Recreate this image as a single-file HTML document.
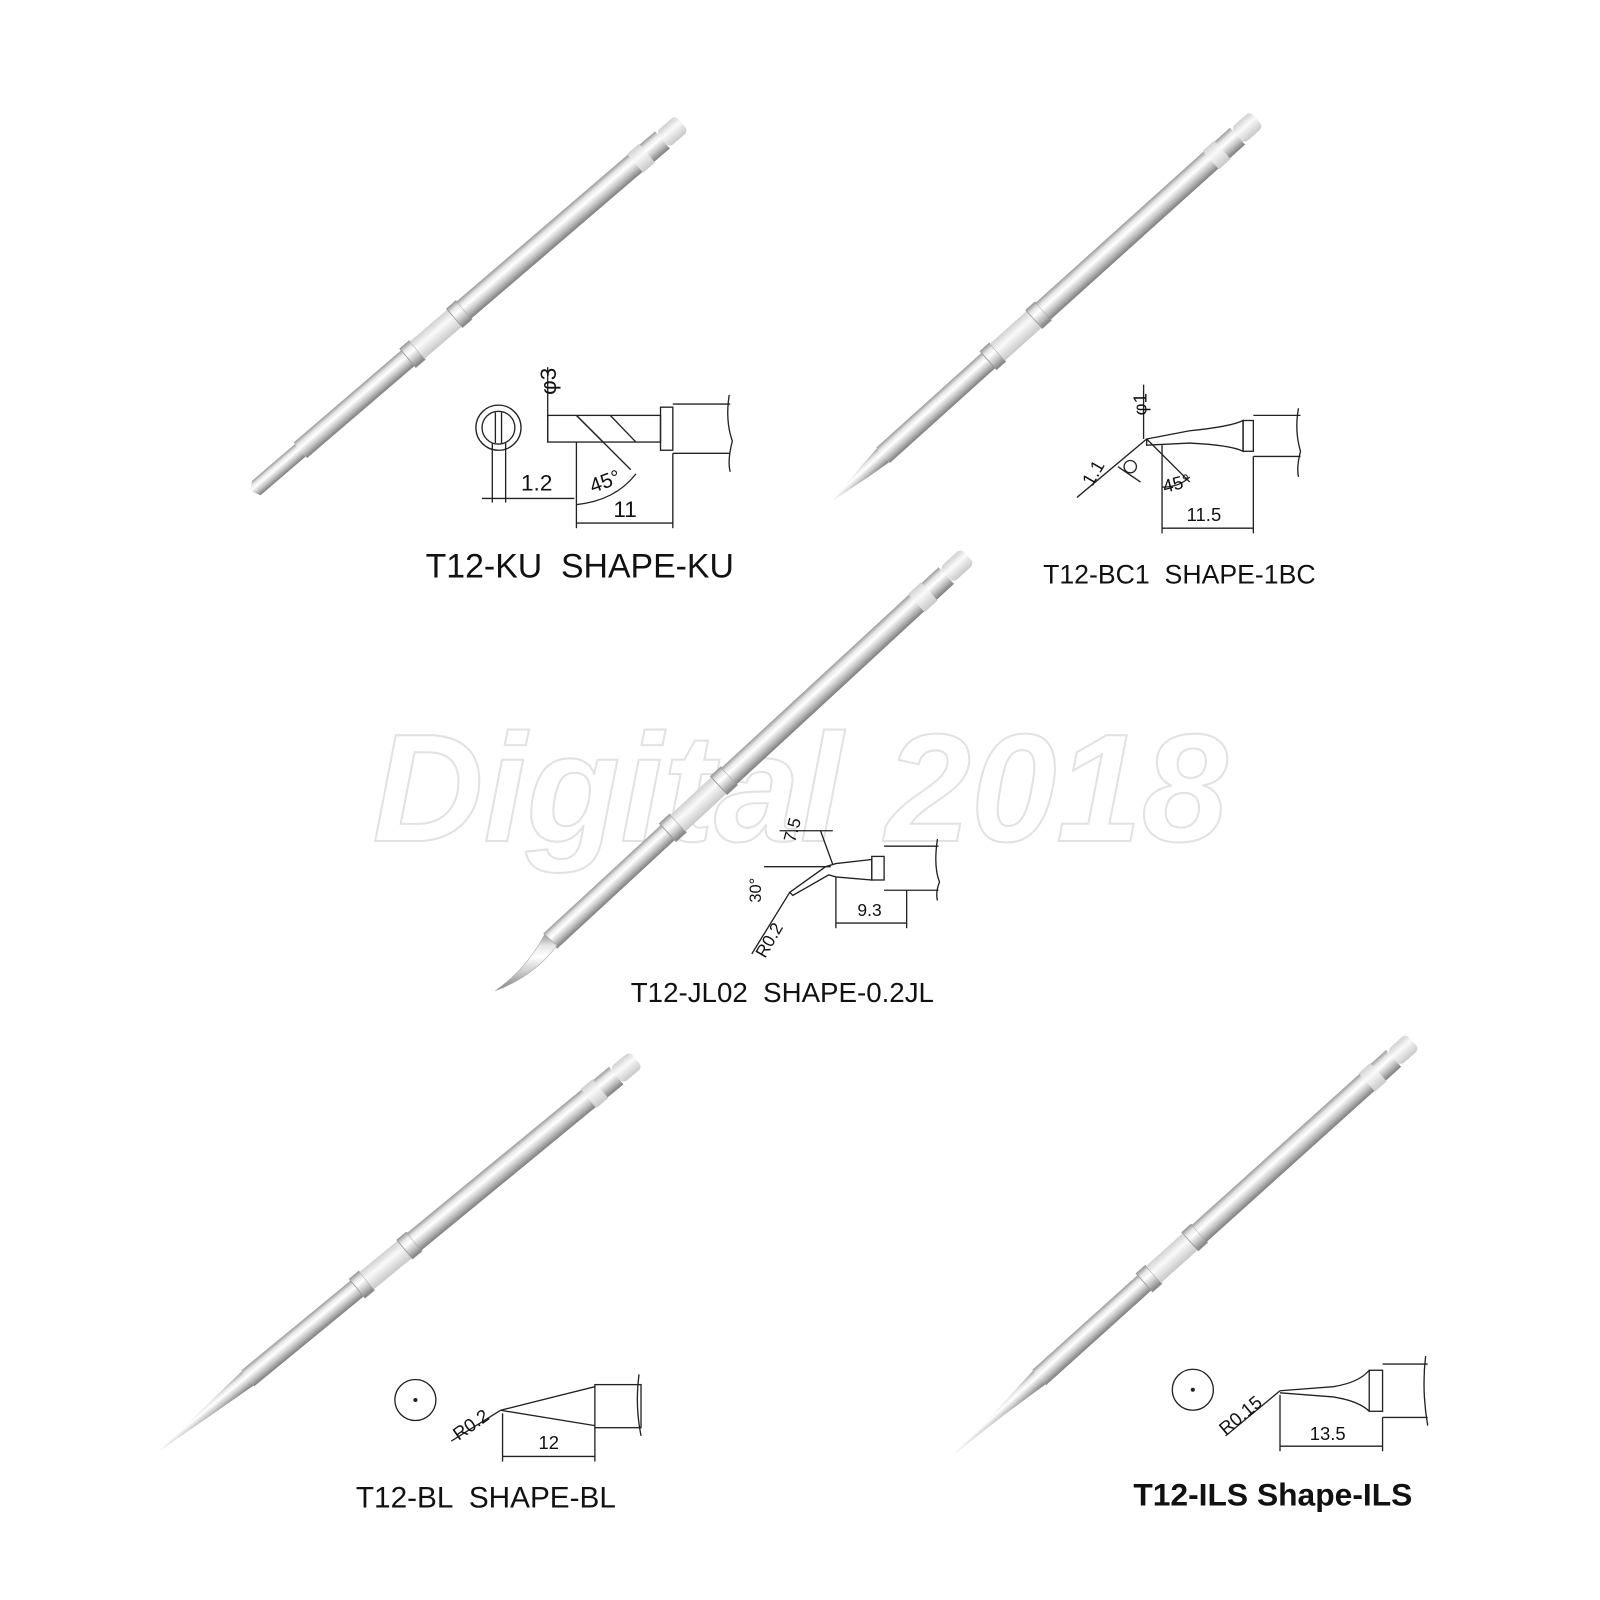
<!DOCTYPE html>
<html><head><meta charset="utf-8"><style>
html,body{margin:0;padding:0;background:#fff;}
svg{display:block}
text{font-family:"Liberation Sans",sans-serif;fill:#111;white-space:pre}
</style></head><body>
<svg width="1600" height="1600" viewBox="0 0 1560 1560" xmlns="http://www.w3.org/2000/svg">
<defs>
<linearGradient id="m" x1="0" y1="0" x2="0" y2="1">
<stop offset="0" stop-color="#9a9a9a"/><stop offset="0.2" stop-color="#e6e6e6"/><stop offset="0.4" stop-color="#ffffff"/><stop offset="0.7" stop-color="#c4c4c4"/><stop offset="1" stop-color="#7d7d7d"/>
</linearGradient>
<linearGradient id="w" x1="0" y1="0" x2="0" y2="1">
<stop offset="0" stop-color="#d0d0d0"/><stop offset="0.4" stop-color="#fafafa"/><stop offset="1" stop-color="#c8c8c8"/>
</linearGradient>
<g id="body">
<rect x="0" y="-10" width="140" height="20" fill="url(#m)"/>
<rect x="138" y="-12" width="12" height="24" fill="url(#m)" stroke="#999" stroke-width="0.8"/>
<rect x="150" y="-11" width="50" height="22" fill="url(#w)"/>
<rect x="198" y="-12" width="12" height="24" fill="url(#m)" stroke="#999" stroke-width="0.8"/>
<rect x="210" y="-11" width="220" height="22" fill="url(#m)"/>
<rect x="430" y="-12" width="15" height="24" fill="url(#w)"/>
<rect x="445" y="-11" width="20" height="22" fill="url(#m)"/>
<rect x="465" y="-10" width="25" height="20" rx="5" fill="url(#w)"/>
</g>
</defs>
<rect width="1560" height="1560" fill="#fff"/>
<text x="780" y="820" text-anchor="middle" font-size="150" font-style="italic" font-weight="bold" stroke="#e2e2e2" stroke-width="2" style="fill:none">Digital 2018</text>

<g transform="translate(245,480) rotate(-40.6)">
<polygon points="0,-2 8,-8 63,-8 63,8 5,8" fill="url(#m)"/>
<use href="#body" x="63"/>
</g>
<g transform="translate(812,488) rotate(-42)">
<polygon points="0,0 40,-6 66,-9 66,9 40,6" fill="url(#m)"/>
<use href="#body" x="66"/>
</g>
<g transform="translate(485,965) rotate(-42.7)">
<use href="#body" transform="translate(70,0) scale(1.13,1)"/>
</g>
<path d="M531,911 L543,922 Q520,952 483,966 Q514,944 531,911Z" fill="url(#m)" stroke="#aaa" stroke-width="0.6"/>
<g transform="translate(155,1415) rotate(-39.4)">
<polygon points="0,0 60,-5 112,-9 112,9 60,5" fill="url(#m)"/>
<use href="#body" x="112"/>
</g>
<g transform="translate(930,1418) rotate(-42)">
<polygon points="0,0 60,-4 112,-9 112,9 60,4" fill="url(#m)"/>
<use href="#body" x="112"/>
</g>

<g fill="none" stroke="#222" stroke-width="1.3">
<circle cx="486" cy="417" r="22"/><circle cx="486" cy="417" r="16"/>
<line x1="483" y1="402" x2="483" y2="432"/><line x1="489" y1="402" x2="489" y2="432"/>
<line x1="480" y1="432" x2="480" y2="490"/><line x1="493" y1="432" x2="493" y2="490"/>
<line x1="470" y1="486" x2="560" y2="486"/>
<rect x="534" y="405" width="110" height="26"/>
<line x1="562" y1="405" x2="588" y2="431"/><line x1="595" y1="405" x2="620" y2="431"/>
<rect x="644" y="397" width="12" height="42"/>
<line x1="656" y1="394" x2="712" y2="394"/><line x1="656" y1="442" x2="712" y2="442"/>
<path d="M711,385 Q707,410 714,430 Q709,450 712,460"/>
<line x1="534" y1="358" x2="534" y2="431"/>
<line x1="562" y1="431" x2="562" y2="515"/><line x1="656" y1="442" x2="656" y2="515"/>
<line x1="562" y1="510" x2="656" y2="510"/>
<line x1="562" y1="405" x2="615" y2="458"/>
<path d="M562,492 Q600,488 620,462"/>
<line x1="1115" y1="375" x2="1115" y2="428"/>
<path d="M1118,428 L1160,420 Q1200,416 1212,410 L1212,440 Q1200,434 1160,432 L1118,434Z"/>
<rect x="1212" y="410" width="10" height="30"/>
<line x1="1222" y1="405" x2="1268" y2="405"/><line x1="1222" y1="445" x2="1268" y2="445"/>
<path d="M1266,398 Q1262,420 1268,440 Q1264,455 1266,465"/>
<line x1="1050" y1="485" x2="1118" y2="428"/><line x1="1090" y1="455" x2="1112" y2="470"/>
<circle cx="1102" cy="455" r="6"/>
<line x1="1133" y1="434" x2="1133" y2="520"/><line x1="1222" y1="445" x2="1222" y2="520"/>
<line x1="1133" y1="515" x2="1222" y2="515"/>
<line x1="1118" y1="428" x2="1160" y2="470"/><path d="M1133,475 Q1150,475 1160,465"/>
<path d="M770,870 L805,845 L815,842 L850,838 L850,858 L815,855 L808,853 L773,873Z"/>
<rect x="850" y="835" width="12" height="23"/>
<line x1="862" y1="825" x2="915" y2="825"/><line x1="862" y1="868" x2="915" y2="868"/>
<path d="M914,818 Q910,845 916,860 Q912,870 914,878"/>
<line x1="745" y1="845" x2="810" y2="845"/><line x1="760" y1="810" x2="812" y2="810"/>
<line x1="800" y1="810" x2="812" y2="843"/>
<line x1="815" y1="855" x2="815" y2="905"/><line x1="884" y1="868" x2="884" y2="905"/>
<line x1="815" y1="900" x2="884" y2="900"/>
<line x1="733" y1="930" x2="770" y2="870"/>
<circle cx="405" cy="1365" r="20"/>
<path d="M488,1375 L580,1352 M488,1375 L580,1390"/>
<rect x="580" y="1350" width="45" height="42"/>
<path d="M623,1340 Q619,1370 625,1400"/>
<line x1="440" y1="1405" x2="488" y2="1375"/>
<line x1="490" y1="1378" x2="490" y2="1425"/><line x1="580" y1="1392" x2="580" y2="1425"/>
<line x1="490" y1="1420" x2="580" y2="1420"/>
<circle cx="1163" cy="1355" r="20"/>
<path d="M1248,1356 L1300,1352 Q1325,1348 1335,1336 M1248,1358 L1300,1362 Q1325,1366 1335,1376"/>
<rect x="1335" y="1336" width="13" height="40"/>
<line x1="1348" y1="1330" x2="1392" y2="1330"/><line x1="1348" y1="1382" x2="1392" y2="1382"/>
<path d="M1390,1322 Q1386,1355 1392,1390"/>
<line x1="1195" y1="1400" x2="1248" y2="1356"/>
<line x1="1248" y1="1360" x2="1248" y2="1415"/><line x1="1348" y1="1382" x2="1348" y2="1415"/>
<line x1="1248" y1="1410" x2="1348" y2="1410"/>
</g>
<circle cx="405" cy="1365" r="2" fill="#222"/>
<circle cx="1163" cy="1355" r="2" fill="#222"/>

<text x="0" y="0" font-size="22" transform="translate(542,385) rotate(-90)">φ3</text>
<text x="508" y="478" font-size="22">1.2</text>
<text x="575" y="476" font-size="20" transform="rotate(-20 590 470)">45°</text>
<text x="598" y="504" font-size="22">11</text>
<text x="0" y="0" font-size="18" transform="translate(1118,405) rotate(-90)">φ1</text>
<text x="0" y="0" font-size="18" transform="translate(1065,475) rotate(-60)">1.1</text>
<text x="1133" y="478" font-size="18" transform="rotate(-15 1145 470)">45°</text>
<text x="1157" y="508" font-size="18">11.5</text>
<text x="0" y="0" font-size="17" transform="translate(775,822) rotate(-75)">7.5</text>
<text x="0" y="0" font-size="16" transform="translate(742,880) rotate(-90)">30°</text>
<text x="0" y="0" font-size="17" transform="translate(746,935) rotate(-60)">R0.2</text>
<text x="836" y="893" font-size="17">9.3</text>
<text x="0" y="0" font-size="18" transform="translate(447,1405) rotate(-35)">R0.2</text>
<text x="525" y="1413" font-size="18">12</text>
<text x="0" y="0" font-size="18" transform="translate(1195,1400) rotate(-40)">R0.15</text>
<text x="1277" y="1404" font-size="18">13.5</text>

<text x="415" y="563" font-size="33">T12-KU  SHAPE-KU</text>
<text x="1017" y="569" font-size="26">T12-BC1  SHAPE-1BC</text>
<text x="615" y="977" font-size="27">T12-JL02  SHAPE-0.2JL</text>
<text x="347" y="1470" font-size="29">T12-BL  SHAPE-BL</text>
<text x="1105" y="1468" font-size="31" font-weight="bold">T12-ILS Shape-ILS</text>
</svg>
</body></html>
